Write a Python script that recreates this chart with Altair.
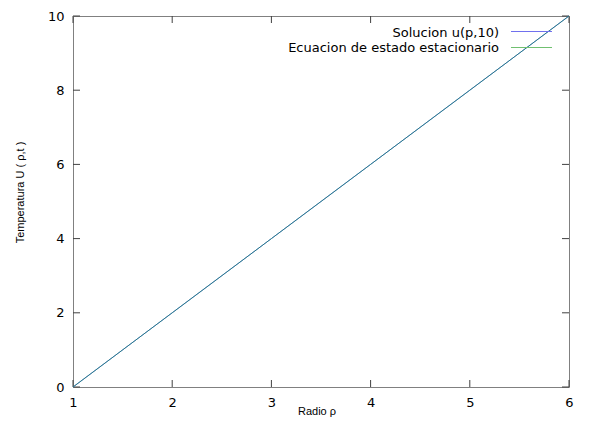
import altair as alt
import pandas as pd

# ---- data ----
radio = [1, 2, 3, 4, 5, 6]
solucion = [0, 2, 4, 6, 8, 10]
estacionario = [0, 2, 4, 6, 8, 10]
x_ticks = [1, 2, 3, 4, 5, 6]
y_ticks = [0, 2, 4, 6, 8, 10]
series_names = ["Solucion u(p,10)", "Ecuacion de estado estacionario"]

W, H = 496, 371
BLUE = "#2850c8"
GREEN = "#28a050"

df_sol = pd.DataFrame({"radio": radio, "temp": solucion})
df_est = pd.DataFrame({"radio": radio, "temp": estacionario})
df_xt = pd.DataFrame({"v": x_ticks})
df_yt = pd.DataFrame({"v": y_ticks})
df_leg = pd.DataFrame({"name": series_names})

xs = alt.Scale(domain=[1, 6], nice=False, zero=False)
ys = alt.Scale(domain=[0, 10], nice=False, zero=False)

x_axis = alt.Axis(
    values=x_ticks, format="d", ticks=False, domain=False, grid=False, labelFlush=False,
    labelFont="DejaVu Sans", labelFontSize=13, labelColor="#000000", labelPadding=9,
    title="Radio ρ", titleFont="Liberation Sans", titleFontSize=11,
    titleFontWeight="normal", titleColor="#000000",
    titleX=243.5, titleY=27, titleBaseline="alphabetic", titleAlign="center",
)
y_axis = alt.Axis(
    values=y_ticks, format="d", ticks=False, domain=False, grid=False, labelFlush=False,
    labelFont="DejaVu Sans", labelFontSize=13, labelColor="#000000", labelPadding=9,
    title="Temperatura U ( ρ,t )", titleFont="Liberation Sans", titleFontSize=11,
    titleFontWeight="normal", titleColor="#000000",
    titleX=-50, titleY=176, titleBaseline="alphabetic", titleAlign="center", titleAngle=270,
)

line_sol = alt.Chart(df_sol).mark_line(color=BLUE, strokeWidth=1).encode(
    x=alt.X("radio:Q", scale=xs, axis=x_axis),
    y=alt.Y("temp:Q", scale=ys, axis=y_axis),
)
line_est = alt.Chart(df_est).mark_line(color=GREEN, strokeWidth=1, opacity=0.5).encode(
    x=alt.X("radio:Q", scale=xs),
    y=alt.Y("temp:Q", scale=ys),
)

TICK = "#404040"
yt_left = alt.Chart(df_yt).mark_rule(color=TICK, strokeWidth=1).encode(
    y=alt.Y("v:Q", scale=ys), x=alt.value(0), x2=alt.value(7))
yt_right = alt.Chart(df_yt).mark_rule(color=TICK, strokeWidth=1).encode(
    y=alt.Y("v:Q", scale=ys), x=alt.value(W - 7), x2=alt.value(W))
xt_bot = alt.Chart(df_xt).mark_rule(color=TICK, strokeWidth=1).encode(
    x=alt.X("v:Q", scale=xs), y=alt.value(H - 7), y2=alt.value(H))
xt_top = alt.Chart(df_xt).mark_rule(color=TICK, strokeWidth=1).encode(
    x=alt.X("v:Q", scale=xs), y=alt.value(0), y2=alt.value(7))

leg_t1 = alt.Chart(df_leg.iloc[[0]]).mark_text(
    font="DejaVu Sans", fontSize=13, align="right", baseline="alphabetic", color="#000000"
).encode(text="name:N", x=alt.value(426), y=alt.value(20.5))
leg_t2 = alt.Chart(df_leg.iloc[[1]]).mark_text(
    font="DejaVu Sans", fontSize=13, align="right", baseline="alphabetic", color="#000000"
).encode(text="name:N", x=alt.value(426), y=alt.value(36))
leg_l1 = alt.Chart(df_leg.iloc[[0]]).mark_rule(color="#7070ee", strokeWidth=1).encode(
    x=alt.value(438), x2=alt.value(479), y=alt.value(15.5))
leg_l2 = alt.Chart(df_leg.iloc[[1]]).mark_rule(color="#70c070", strokeWidth=1).encode(
    x=alt.value(438), x2=alt.value(479), y=alt.value(31.5))

chart = alt.layer(
    yt_left, yt_right, xt_bot, xt_top, line_sol, line_est,
    leg_t1, leg_t2, leg_l1, leg_l2,
).properties(
    width=W, height=H,
    autosize=alt.AutoSizeParams(type="none"),
    padding={"left": 65, "top": 8, "right": 17, "bottom": 40},
    background="#ffffff",
).configure_view(stroke="#808080", strokeWidth=1)

chart.save("out.html", embed_options={"renderer": "svg", "actions": False})
